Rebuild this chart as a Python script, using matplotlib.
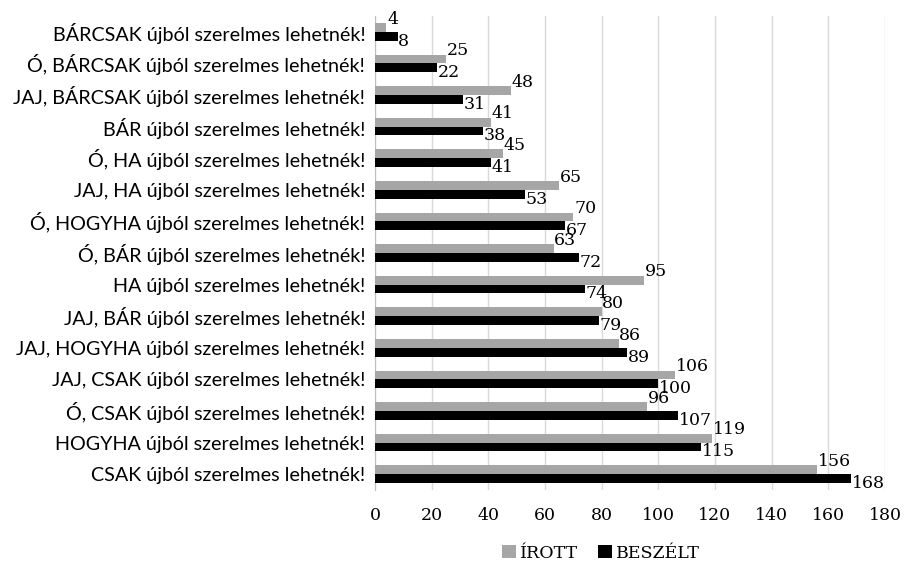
import matplotlib
matplotlib.use("Agg")
import matplotlib.pyplot as plt
import numpy as np

# categorias de cima para baixo
categorias = [
    "BÁRCSAK újból szerelmes lehetnék!",
    "Ó, BÁRCSAK újból szerelmes lehetnék!",
    "JAJ, BÁRCSAK újból szerelmes lehetnék!",
    "BÁR újból szerelmes lehetnék!",
    "Ó, HA újból szerelmes lehetnék!",
    "JAJ, HA újból szerelmes lehetnék!",
    "Ó, HOGYHA újból szerelmes lehetnék!",
    "Ó, BÁR újból szerelmes lehetnék!",
    "HA újból szerelmes lehetnék!",
    "JAJ, BÁR újból szerelmes lehetnék!",
    "JAJ, HOGYHA újból szerelmes lehetnék!",
    "JAJ, CSAK újból szerelmes lehetnék!",
    "Ó, CSAK újból szerelmes lehetnék!",
    "HOGYHA újból szerelmes lehetnék!",
    "CSAK újból szerelmes lehetnék!",
]
irott = [4, 25, 48, 41, 45, 65, 70, 63, 95, 80, 86, 106, 96, 119, 156]
beszelt = [8, 22, 31, 38, 41, 53, 67, 72, 74, 79, 89, 100, 107, 115, 168]

cor_irott = "#a6a6a6"
cor_beszelt = "#000000"
fonte_num = "DejaVu Serif"
tam_num = 12.5

fig = plt.figure(figsize=(9.11, 5.70), dpi=100)
ax = fig.add_axes([375 / 911, 1 - 490 / 570, 510 / 911, 474 / 570])

n = len(categorias)
y = np.arange(n)[::-1]
altura = 0.28

barras_irott = ax.barh(y + altura / 2, irott, altura, color=cor_irott, label="ÍROTT", zorder=3)
barras_beszelt = ax.barh(y - altura / 2, beszelt, altura, color=cor_beszelt, label="BESZÉLT", zorder=3)

for barra, v in zip(barras_irott, irott):
    ax.annotate(str(v), xy=(barra.get_width(), barra.get_y() + barra.get_height() / 2),
                xytext=(0.5, 6), textcoords="offset points", ha="left", va="center",
                fontsize=tam_num, family=fonte_num)
for barra, v in zip(barras_beszelt, beszelt):
    ax.annotate(str(v), xy=(barra.get_width(), barra.get_y() + barra.get_height() / 2),
                xytext=(0.5, -3.5), textcoords="offset points", ha="left", va="center",
                fontsize=tam_num, family=fonte_num)

ax.set_xlim(0, 180)
ax.set_ylim(-0.5, n - 0.5)
ax.set_xticks(np.arange(0, 181, 20))
ax.set_yticks(y)
ax.set_yticklabels(categorias, family="Lato", fontsize=14.2)
for t in ax.get_xticklabels():
    t.set_family(fonte_num)
    t.set_fontsize(tam_num)
ax.tick_params(axis="x", length=0, pad=12)
ax.tick_params(axis="y", length=0, pad=7)

ax.grid(axis="x", color="#d9d9d9", linewidth=1, zorder=0)
for lado in ["top", "right", "bottom"]:
    ax.spines[lado].set_visible(False)
ax.spines["left"].set_color("#bfbfbf")

fig.legend(handles=[barras_irott, barras_beszelt], labels=["ÍROTT", "BESZÉLT"],
           loc="center", bbox_to_anchor=(601 / 911, 1 - 553 / 570), ncol=2, frameon=False,
           prop={"family": fonte_num, "size": tam_num}, handlelength=0.8, handleheight=0.8,
           handletextpad=0.2, columnspacing=1.2)

fig.savefig("out.png", dpi=100)
